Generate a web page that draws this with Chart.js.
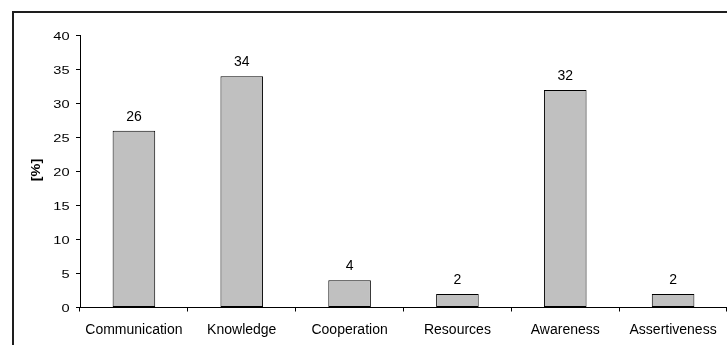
<!DOCTYPE html>
<html>
<head>
<meta charset="utf-8">
<script src="https://cdn.jsdelivr.net/npm/chart.js@4/dist/chart.umd.min.js"></script>
<style>
  html, body { margin: 0; padding: 0; background: #fff; }
  #wrap { width: 727px; height: 345px; position: relative; }
  canvas { display: block; }
</style>
</head>
<body>
<div id="wrap"><canvas id="c" width="727" height="345"></canvas></div>
<script>
// Share of responses per competence area, in percent
const categories = ['Communication', 'Knowledge', 'Cooperation', 'Resources', 'Awareness', 'Assertiveness'];
const percentValues = [26, 34, 4, 2, 32, 2];
const yTickValues = [0, 5, 10, 15, 20, 25, 30, 35, 40];
const yAxisTitle = '[%]';

const FONT = '"Liberation Sans", Arial, Helvetica, sans-serif';

// Outer frame around the figure (open towards right and bottom)
const framePlugin = {
  id: 'frame',
  beforeDraw(chart) {
    const ctx = chart.ctx;
    ctx.save();
    ctx.strokeStyle = '#1e1e1e';
    ctx.lineWidth = 2;
    ctx.beginPath();
    ctx.moveTo(13, 345);
    ctx.lineTo(13, 12);
    ctx.lineTo(727, 12);
    ctx.stroke();
    ctx.restore();
  }
};

// Y-axis labels and title, set in a wide-running face
const yLabelPlugin = {
  id: 'yLabels',
  afterDraw(chart) {
    const ctx = chart.ctx;
    const ys = chart.scales.y;
    ctx.save();
    ctx.fillStyle = '#000';
    ctx.font = '11.5px ' + FONT;
    ctx.textAlign = 'right';
    ctx.textBaseline = 'middle';
    ys.ticks.forEach((t, i) => {
      const py = ys.getPixelForTick(i);
      ctx.save();
      ctx.translate(69.5, py + 1);
      ctx.scale(1.27, 1);
      ctx.fillText(String(t.value), 0, 0);
      ctx.restore();
    });
    ctx.save();
    ctx.font = 'bold 12px ' + FONT;
    ctx.textAlign = 'center';
    ctx.textBaseline = 'middle';
    ctx.translate(36.5, 170);
    ctx.rotate(-Math.PI / 2);
    ctx.scale(1.2, 1);
    ctx.fillText(yAxisTitle, 0, 0);
    ctx.restore();
    ctx.restore();
  }
};

// Value printed above each bar
const valueLabelPlugin = {
  id: 'valueLabels',
  afterDatasetsDraw(chart) {
    const ctx = chart.ctx;
    const meta = chart.getDatasetMeta(0);
    const data = chart.data.datasets[0].data;
    ctx.save();
    ctx.fillStyle = '#000';
    ctx.font = '14px ' + FONT;
    ctx.textAlign = 'center';
    ctx.textBaseline = 'alphabetic';
    meta.data.forEach((bar, i) => {
      ctx.fillText(String(data[i]), bar.x, bar.y - 10);
    });
    ctx.restore();
  }
};

new Chart(document.getElementById('c'), {
  type: 'bar',
  data: {
    labels: categories,
    datasets: [{
      data: percentValues,
      backgroundColor: '#c0c0c0',
      borderColor: '#000',
      borderWidth: 1,
      borderSkipped: false,
      barPercentage: 0.395,
      categoryPercentage: 1
    }]
  },
  options: {
    responsive: false,
    animation: false,
    devicePixelRatio: 1,
    layout: { padding: { top: 35.5, left: 0, right: 0, bottom: 0 } },
    plugins: {
      legend: { display: false },
      tooltip: { enabled: false },
      title: { display: false }
    },
    scales: {
      x: {
        offset: true,
        grid: {
          offset: true,
          drawOnChartArea: false,
          drawTicks: true,
          tickLength: 4,
          color: '#000'
        },
        border: { display: true, color: '#000', width: 1 },
        ticks: {
          color: '#000',
          font: { family: FONT, size: 14 },
          padding: 10,
          maxRotation: 0,
          autoSkip: false
        },
        afterFit(scale) { scale.height = 37.5; }
      },
      y: {
        min: 0,
        max: 40,
        afterBuildTicks(scale) {
          scale.ticks = yTickValues.map(v => ({ value: v }));
        },
        grid: {
          drawOnChartArea: false,
          drawTicks: true,
          tickLength: 4,
          color: '#000'
        },
        border: { display: true, color: '#000', width: 1 },
        ticks: { display: false },
        afterFit(scale) { scale.width = 80; }
      }
    }
  },
  plugins: [framePlugin, yLabelPlugin, valueLabelPlugin]
});
</script>
</body>
</html>
